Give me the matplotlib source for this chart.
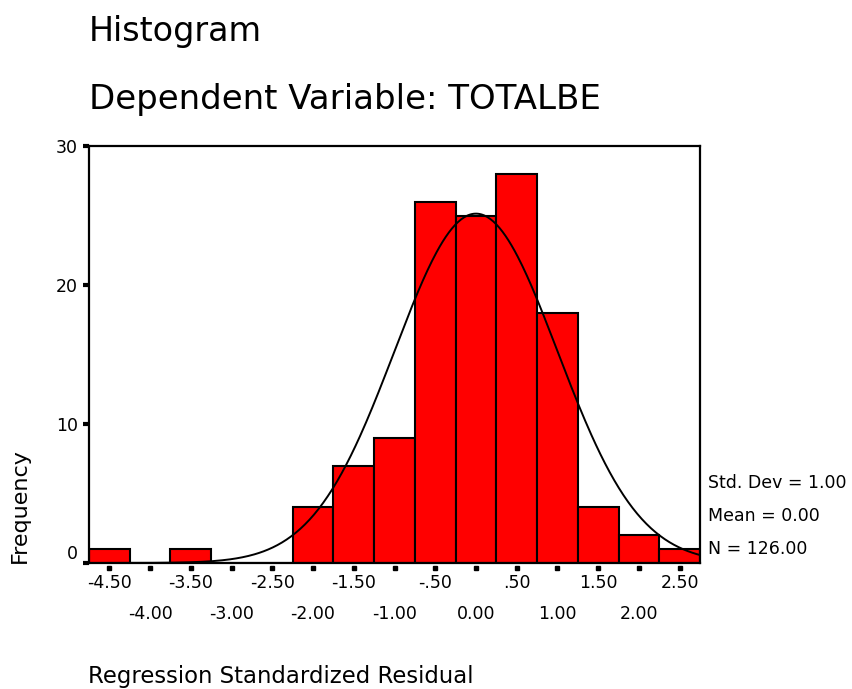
import numpy as np
import matplotlib
matplotlib.use('Agg')
import matplotlib.pyplot as plt
from matplotlib.transforms import blended_transform_factory

plt.rcParams['font.family'] = ['DejaVu Sans']

# histogram bins (centre of each 0.5 wide bin) and counts
bin_centers = [-4.5, -4.0, -3.5, -3.0, -2.5, -2.0, -1.5, -1.0, -0.5, 0.0, 0.5, 1.0, 1.5, 2.0, 2.5]
counts = [1, 0, 1, 0, 0, 4, 7, 9, 26, 25, 28, 18, 4, 2, 1]
bin_width = 0.5

row1_ticks = [-4.5, -3.5, -2.5, -1.5, -0.5, 0.5, 1.5, 2.5]
row1_labels = ['-4.50', '-3.50', '-2.50', '-1.50', '-.50', '.50', '1.50', '2.50']
row2_ticks = [-4.0, -3.0, -2.0, -1.0, 0.0, 1.0, 2.0]
row2_labels = ['-4.00', '-3.00', '-2.00', '-1.00', '0.00', '1.00', '2.00']
y_ticks = [0, 10, 20, 30]

std_dev = 1.00
mean = 0.00
n_total = 126.00

fig = plt.figure(figsize=(8.52, 6.89), dpi=100)
ax = fig.add_axes([89/852, 1 - 563/689, (700-89)/852, (563-146)/689])

ax.bar(bin_centers, counts, width=bin_width, color='#ff0000', edgecolor='black', linewidth=1.5, zorder=2)

# normal curve fitted from mean / std dev / N
xs = np.linspace(-4.75, 2.75, 400)
ys = n_total * bin_width * np.exp(-0.5 * ((xs - mean) / std_dev) ** 2) / (std_dev * np.sqrt(2 * np.pi))
ax.plot(xs, ys, color='black', linewidth=1.4, zorder=3)

ax.set_xlim(-4.75, 2.75)
ax.set_ylim(0, 30)
for s in ax.spines.values():
  s.set_linewidth(1.6)

# y ticks
ax.set_yticks(y_ticks)
ax.set_yticklabels([str(v) for v in y_ticks], fontsize=12.5)
ax.tick_params(axis='y', direction='out', length=4, width=3, pad=4)
ax.get_yticklabels()[0].set_verticalalignment('bottom')

# x ticks: small squares below the axis, labels in two rows
ax.set_xticks([])
all_ticks = sorted(row1_ticks + row2_ticks)
trans = blended_transform_factory(ax.transData, ax.transAxes)
ax.plot(all_ticks, [-0.011] * len(all_ticks), 's', markersize=3, color='black',
        transform=trans, clip_on=False)
for x, lab in zip(row1_ticks, row1_labels):
  ax.text(x, -0.048, lab, transform=trans, ha='center', va='center', fontsize=12.5)
for x, lab in zip(row2_ticks, row2_labels):
  ax.text(x, -0.122, lab, transform=trans, ha='center', va='center', fontsize=12.5)

fig.text(89/852, 1 - 32/689, 'Histogram', fontsize=24, ha='left', va='center')
fig.text(89/852, 1 - 100/689, 'Dependent Variable: TOTALBE', fontsize=24.5, ha='left', va='center')
fig.text(20/852, 1 - 563/689, 'Frequency', fontsize=16, rotation=90, ha='center', va='bottom')
fig.text(88/852, 1 - 683/689, 'Regression Standardized Residual', fontsize=16.4, ha='left', va='baseline')

fig.text(708/852, 1 - 483/689, 'Std. Dev = %.2f' % std_dev, fontsize=12.5, ha='left', va='center')
fig.text(708/852, 1 - 516/689, 'Mean = %.2f' % mean, fontsize=12.5, ha='left', va='center')
fig.text(708/852, 1 - 549/689, 'N = %.2f' % n_total, fontsize=12.5, ha='left', va='center')

fig.savefig('out.png', dpi=100)
